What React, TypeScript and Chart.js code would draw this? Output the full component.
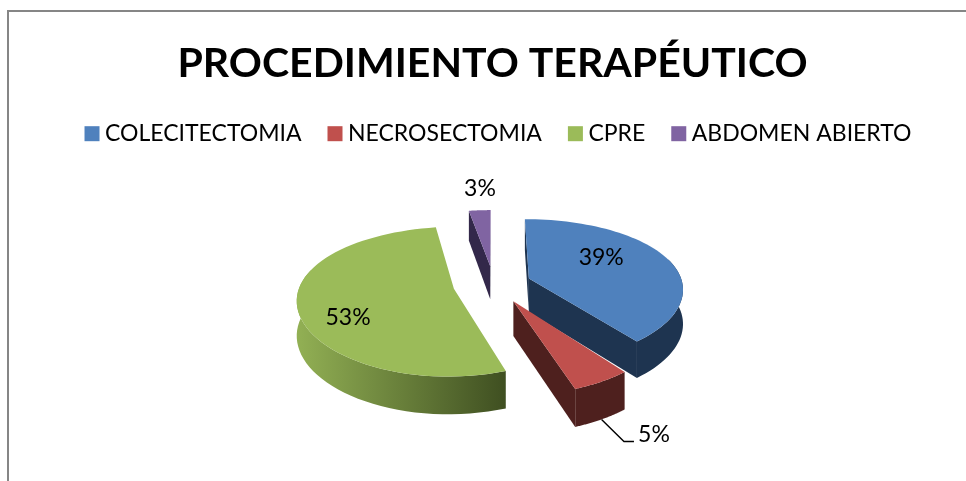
import React, { useEffect, useRef } from "react";
import { Chart, registerables } from "chart.js";

Chart.register(...registerables);

const categories = ["COLECITECTOMIA", "NECROSECTOMIA", "CPRE", "ABDOMEN ABIERTO"];
const patients = [15, 2, 20, 1];
const topColors = ["#4F81BD", "#C0504D", "#9BBB59", "#8064A2"];
const sideColors = ["#1E3450", "#4E201E", "#3F4F21", "#33284A"];
const sideLightColors = ["#1E3450", "#4E201E", "#92B054", "#33284A"];
const sliceOffsets = [28, 30, 30, 30];
const labelRadius = [0.6, 1.5, 0.736, 1.473];
const labelAngleShift = [-0.24, 0.005, -0.275, 0.024];

const SCALE_X = 1.35;
const SCALE_Y = 0.625;
const PERSP_X = 0.13;
const PERSP_Y = 0.17;
const DEPTH = 34;
const LEGEND_BOX = 15;

const project = (el: any, u: number, v: number, z = 0) => {
  const R = el.outerRadius;
  const sx = 1 / (1 - PERSP_X * v);
  const sy = 1 / (1 - PERSP_Y * v);
  return {
    x: el.x + R * SCALE_X * u * sx,
    y: el.y + R * SCALE_Y * v * sy + z * DEPTH * (1 + 0.1 * v),
  };
};

const sliceOutline = (el: any) => {
  const R = el.outerRadius;
  const mid = (el.startAngle + el.endAngle) / 2;
  const ox = (Math.cos(mid) * el.options.offset) / R;
  const oy = (Math.sin(mid) * el.options.offset) / R;
  const apex = { u: ox, v: oy };
  const rim: { u: number; v: number; a: number }[] = [];
  const n = 64;
  for (let i = 0; i <= n; i++) {
    const a = el.startAngle + ((el.endAngle - el.startAngle) * i) / n;
    rim.push({ u: ox + Math.cos(a), v: oy + Math.sin(a), a });
  }
  return { apex, rim, mid, ox, oy };
};

const fillPoly = (ctx: any, pts: { x: number; y: number }[]) => {
  ctx.beginPath();
  pts.forEach((q, k) => (k === 0 ? ctx.moveTo(q.x, q.y) : ctx.lineTo(q.x, q.y)));
  ctx.closePath();
  ctx.fill();
};

const pie3d = {
  id: "pie3d",
  afterLayout(chart: any) {
    chart.titleBlock.left -= 1;
    chart.titleBlock.right -= 1;
    chart.legend.left += 4.5;
    chart.legend.right += 4.5;
  },
  beforeDraw(chart: any) {
    const { ctx, width, height } = chart;
    ctx.save();
    ctx.fillStyle = "#ffffff";
    ctx.fillRect(0, 0, width, height);
    ctx.strokeStyle = "#868686";
    ctx.lineWidth = 2;
    ctx.beginPath();
    ctx.moveTo(8, height);
    ctx.lineTo(8, 11);
    ctx.lineTo(width, 11);
    ctx.stroke();
    ctx.restore();
  },
  beforeDatasetDraw(chart: any, args: any) {
    const { ctx } = chart;
    const meta = args.meta;
    const order = [3, 0, 2, 1];
    ctx.save();
    for (const i of order) {
      const el = meta.data[i];
      if (!el) continue;
      const { apex, rim } = sliceOutline(el);
      let fill: any = sideColors[i];
      if (sideLightColors[i] !== sideColors[i]) {
        const xs = rim.map((p) => project(el, p.u, p.v).x);
        const g = ctx.createLinearGradient(Math.min(...xs), 0, Math.max(...xs), 0);
        g.addColorStop(0, sideLightColors[i]);
        g.addColorStop(1, sideColors[i]);
        fill = g;
      }
      ctx.fillStyle = fill;
      // radial faces that look toward the viewer
      const first = rim[0];
      const last = rim[rim.length - 1];
      if (Math.sin(el.startAngle - Math.PI / 2) > -0.05) {
        fillPoly(ctx, [
          project(el, apex.u, apex.v),
          project(el, first.u, first.v),
          project(el, first.u, first.v, 1),
          project(el, apex.u, apex.v, 1),
        ]);
      }
      if (Math.sin(el.endAngle + Math.PI / 2) > -0.05) {
        fillPoly(ctx, [
          project(el, apex.u, apex.v),
          project(el, last.u, last.v),
          project(el, last.u, last.v, 1),
          project(el, apex.u, apex.v, 1),
        ]);
      }
      // outer wall, front-facing part only
      const front = rim.filter((p) => Math.sin(p.a) > -0.3);
      if (front.length > 1) {
        fillPoly(ctx, [
          ...front.map((p) => project(el, p.u, p.v)),
          ...front
            .slice()
            .reverse()
            .map((p) => project(el, p.u, p.v, 1)),
        ]);
      }
      ctx.fillStyle = topColors[i];
      fillPoly(ctx, [apex, ...rim].map((p) => project(el, p.u, p.v)));
    }
    ctx.restore();
    return false;
  },
  afterDatasetsDraw(chart: any) {
    const { ctx } = chart;
    const meta = chart.getDatasetMeta(0);
    const values = chart.data.datasets[0].data as number[];
    const total = values.reduce((s, x) => s + x, 0);
    ctx.save();
    ctx.font = "23px Lato";
    ctx.fillStyle = "#000000";
    ctx.textAlign = "center";
    ctx.textBaseline = "middle";
    meta.data.forEach((el: any, i: number) => {
      const { mid, ox, oy } = sliceOutline(el);
      const a = mid + labelAngleShift[i];
      const r = labelRadius[i];
      const q = project(el, ox + Math.cos(a) * r, oy + Math.sin(a) * r);
      ctx.fillText(`${Math.round((values[i] / total) * 100)}%`, q.x, q.y);
      if (i === 1) {
        const s = project(el, ox + Math.cos(mid), oy + Math.sin(mid), 1);
        ctx.strokeStyle = "#000000";
        ctx.lineWidth = 1.4;
        ctx.beginPath();
        ctx.moveTo(s.x, s.y);
        ctx.lineTo(q.x - 30, q.y + 7);
        ctx.lineTo(q.x - 20, q.y + 7);
        ctx.stroke();
      }
    });
    // legend squares, placed on the legend's own hit boxes
    chart.legend.legendHitBoxes.forEach((b: any, i: number) => {
      ctx.fillStyle = topColors[i];
      ctx.fillRect(b.left, b.top + (b.height - LEGEND_BOX) / 2, LEGEND_BOX, LEGEND_BOX);
    });
    ctx.restore();
  },
};

export default function App() {
  const ref = useRef<HTMLCanvasElement>(null);
  useEffect(() => {
    const chart = new Chart(ref.current!, {
      type: "pie",
      data: {
        labels: categories,
        datasets: [
          {
            data: patients,
            backgroundColor: topColors,
            borderWidth: 0,
            offset: sliceOffsets,
          },
        ],
      },
      plugins: [pie3d],
      options: {
        animation: false,
        responsive: false,
        layout: { padding: { left: 21, right: 0, top: 26, bottom: 68 } },
        plugins: {
          tooltip: { enabled: false },
          title: {
            display: true,
            text: "PROCEDIMIENTO TERAPÉUTICO",
            color: "#000000",
            font: { family: "Lato", size: 41, weight: "bold" },
            padding: { top: 13, bottom: 8 },
          },
          legend: {
            display: true,
            position: "top",
            labels: {
              color: "#000000",
              font: { family: "Lato", size: 23 },
              boxWidth: 9,
              boxHeight: 16,
              padding: 26,
              generateLabels: (chart: any) =>
                chart.data.labels.map((text: string, i: number) => ({
                  text,
                  index: i,
                  fillStyle: "rgba(0,0,0,0)",
                  strokeStyle: "rgba(0,0,0,0)",
                  lineWidth: 0,
                  fontColor: "#000000",
                })),
            },
          },
        },
      } as any,
    });
    return () => chart.destroy();
  }, []);
  return (
    <div style={{ position: "fixed", left: 0, top: 0, width: 966, height: 481, background: "#fff" }}>
      <canvas ref={ref} width={966} height={481} style={{ display: "block", width: 966, height: 481 }} />
    </div>
  );
}
